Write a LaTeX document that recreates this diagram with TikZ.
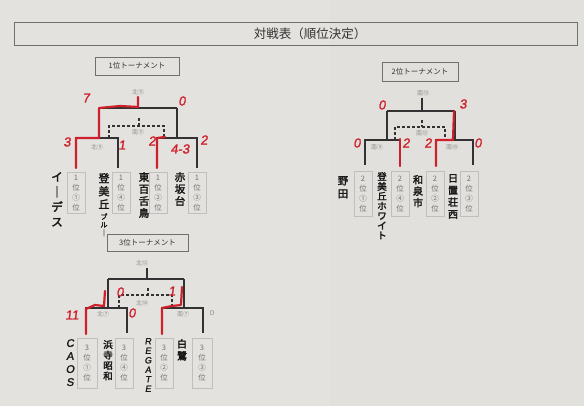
\documentclass[tikz,border=0pt]{standalone}
\usepackage{fontspec}
\setmainfont{Noto Sans CJK JP}
\newfontfamily\cjkb[FakeBold=2.5]{Noto Sans CJK JP}
\newfontfamily\hand[FakeSlant=0.15,FakeBold=1.5]{Liberation Sans}
\definecolor{paper}{RGB}{226,224,220}
\definecolor{lineC}{RGB}{50,50,50}
\definecolor{redC}{RGB}{205,32,42}
\begin{document}
\begin{tikzpicture}[x=1pt,y=-1pt,
  ln/.style={draw=lineC,line width=1.1pt},
  dl/.style={draw=lineC,line width=1.1pt,dash pattern=on 3pt off 2pt},
  win/.style={draw=redC,line width=2.2pt,line join=round,line cap=round},
  tbox/.style={draw=lineC!70,line width=0.6pt,minimum width=84pt,minimum height=18pt,font=\fontsize{7.5}{9}\selectfont,text=lineC},
  rbox/.style={draw=black!25,line width=0.5pt,minimum width=18pt,minimum height=41pt,anchor=north,align=center,font=\fontsize{7.5}{10}\selectfont,text=black!55,inner sep=0pt},
  team/.style={anchor=north,align=center,inner sep=0pt,font=\cjkb\fontsize{11}{14}\selectfont,text=black!90},
  pen/.style={text=black!45,font=\fontsize{6}{6.5}\selectfont,inner sep=0pt},
  sc/.style={text=redC,font=\hand\fontsize{13}{13}\selectfont,inner sep=0pt},
]
\useasboundingbox (0,0) rectangle (584,406);
\fill[paper] (0,0) rectangle (584,406);
\fill[white,opacity=0.08] (0,0) rectangle (330,406);

% main title
\node[draw=lineC!70,line width=0.6pt,minimum width=563pt,minimum height=23pt,inner sep=0pt] (title) at (295.5,34) {};
\node[font=\fontsize{12.5}{14}\selectfont,text=lineC] (titletxt) at (310,34) {対戦表（順位決定）};

% ===== bracket 1 =====
\node[tbox] (t1) at (137,66) {1位トーナメント};
\draw[ln] (138,97) -- (138,108) (99,108) -- (177,108) (99,108) -- (99,138) (177,108) -- (177,138);
\draw[ln] (76,168) -- (76,138) -- (118,138) -- (118,168);
\draw[ln] (157,168) -- (157,138) -- (197,138) -- (197,168);
\draw[dl] (139,118) -- (139,126) (109,138) -- (109,126) -- (164,126) -- (164,138);
\draw[win] (76,168) -- (76,138) -- (99,138) -- (99,108) -- (120,106) -- (138,107) -- (138,97);
\draw[win] (157,168) -- (157,138) -- (165,137);
\node[pen] (p11) at (138,92) {北⑪};
\node[pen] (p12) at (138,132) {南⑪};
\node[pen] (p13) at (97,147) {北⑨};
\node[sc] (s11) at (86,98) {7};
\node[sc] (s12) at (182,101) {0};
\node[sc] (s13) at (67,142) {3};
\node[sc] (s14) at (122,145) {1};
\node[sc] (s15) at (152,141) {2};
\node[sc] (s16) at (204,140) {2};
\node[sc] (s17) at (180,149) {4-3};
\node[rbox] (r11) at (76,172) {1\\位\\①\\位};
\node[rbox] (r12) at (121,172) {1\\位\\④\\位};
\node[rbox] (r13) at (158,172) {1\\位\\②\\位};
\node[rbox] (r14) at (197,172) {1\\位\\③\\位};
\node[team,font=\cjkb\fontsize{11.5}{15}\selectfont] (n11) at (57,172) {イ\\｜\\デ\\ス};
\node[team,font=\cjkb\fontsize{11}{13}\selectfont] (n12) at (104,173) {登\\美\\丘\\[-2pt]{\fontsize{7}{8}\selectfont ブ}\\[-5pt]{\fontsize{7}{8}\selectfont ル}\\[-5pt]{\fontsize{7}{8}\selectfont ｜}};
\node[team,font=\cjkb\fontsize{10.5}{12}\selectfont] (n13) at (144,172) {東\\百\\舌\\鳥};
\node[team,font=\cjkb\fontsize{10.5}{12}\selectfont] (n14) at (180,172) {赤\\坂\\台};

% ===== bracket 2 =====
\node[tbox,minimum width=76pt,minimum height=19pt] (t2) at (420,72) {2位トーナメント};
\draw[ln] (422,98) -- (422,111) (387,111) -- (455,111) (387,111) -- (387,140) (455,111) -- (455,140);
\draw[ln] (365,165) -- (365,140) -- (400,140) -- (400,165);
\draw[ln] (436,165) -- (436,140) -- (473,140) -- (473,165);
\draw[dl] (422,120) -- (422,127) (395,140) -- (395,127) -- (445,127) -- (445,140);
\draw[win] (400,166) -- (400,139);
\draw[win] (436,166) -- (436,140) -- (453,140) -- (454,111);
\node[pen] (p21) at (423,93) {南⑬};
\node[pen] (p22) at (422,133) {南⑫};
\node[pen] (p23) at (377,147) {南⑨};
\node[pen] (p24) at (452,147) {南⑩};
\node[sc] (s21) at (382,105) {0};
\node[sc] (s22) at (463,104) {3};
\node[sc] (s23) at (357,143) {0};
\node[sc] (s24) at (406,143) {2};
\node[sc] (s25) at (428,143) {2};
\node[sc] (s26) at (478,143) {0};
\node[rbox,minimum height=45pt] (r21) at (363,171) {2\\位\\①\\位};
\node[rbox,minimum height=45pt] (r22) at (400,171) {2\\位\\④\\位};
\node[rbox,minimum height=45pt] (r23) at (435,171) {2\\位\\②\\位};
\node[rbox,minimum height=45pt] (r24) at (469,171) {2\\位\\③\\位};
\node[team,font=\cjkb\fontsize{10.5}{13}\selectfont] (n21) at (343,176) {野\\田};
\node[team,font=\cjkb\fontsize{9.5}{9.8}\selectfont] (n22) at (382,172) {登\\美\\丘\\ホ\\ワ\\イ\\ト};
\node[team,font=\cjkb\fontsize{10}{11.5}\selectfont] (n23) at (418,175) {和\\泉\\市};
\node[team,font=\cjkb\fontsize{10}{12}\selectfont] (n24) at (453,174) {日\\置\\荘\\西};

% ===== bracket 3 =====
\node[tbox,minimum width=81pt,minimum height=17pt] (t3) at (147.5,242.5) {3位トーナメント};
\draw[ln] (147,268) -- (147,279) (108,279) -- (184,279) (108,279) -- (108,308) (184,279) -- (184,308);
\draw[ln] (86,333) -- (86,308) -- (127,308) -- (127,333);
\draw[ln] (162,333) -- (162,308) -- (203,308) -- (203,333);
\draw[dl] (148,288) -- (148,295) (119,308) -- (119,295) -- (172,295) -- (172,308);
\draw[win] (86,334) -- (86,309) -- (95,305) -- (104,306) -- (105,291);
\draw[win] (162,334) -- (162,308) -- (172,306) -- (181,305) -- (182,287);
\node[pen] (p31) at (142,263) {北⑫};
\node[pen] (p32) at (142,303) {北⑩};
\node[pen] (p33) at (103,314) {北⑦};
\node[pen] (p34) at (183,314) {南⑦};
\node[pen,font=\fontsize{6.5}{7}\selectfont] (p35) at (212,313) {D};
\node[sc] (s31) at (72,315) {11};
\node[sc] (s32) at (132,313) {0};
\node[sc] (s33) at (120,292) {0};
\node[sc] (s34) at (172,291) {1};
\node[rbox,minimum width=20pt,minimum height=50pt] (r31) at (87,338) {3\\位\\①\\位};
\node[rbox,minimum height=50pt] (r32) at (124,338) {3\\位\\④\\位};
\node[rbox,minimum height=50pt] (r33) at (164,338) {3\\位\\②\\位};
\node[rbox,minimum width=20pt,minimum height=50pt] (r34) at (202,338) {3\\位\\③\\位};
\node[team,font=\hand\fontsize{11}{13}\selectfont] (n31) at (70,339) {C\\A\\O\\S};
\node[team,font=\cjkb\fontsize{9.5}{10.5}\selectfont] (n32) at (108,340) {浜\\寺\\昭\\和};
\node[team,font=\hand\fontsize{9}{9.5}\selectfont] (n33) at (148,338) {R\\E\\G\\A\\T\\E};
\node[team,font=\cjkb\fontsize{10}{12}\selectfont] (n34) at (182,339) {白\\鷺};
\end{tikzpicture}
\end{document}
